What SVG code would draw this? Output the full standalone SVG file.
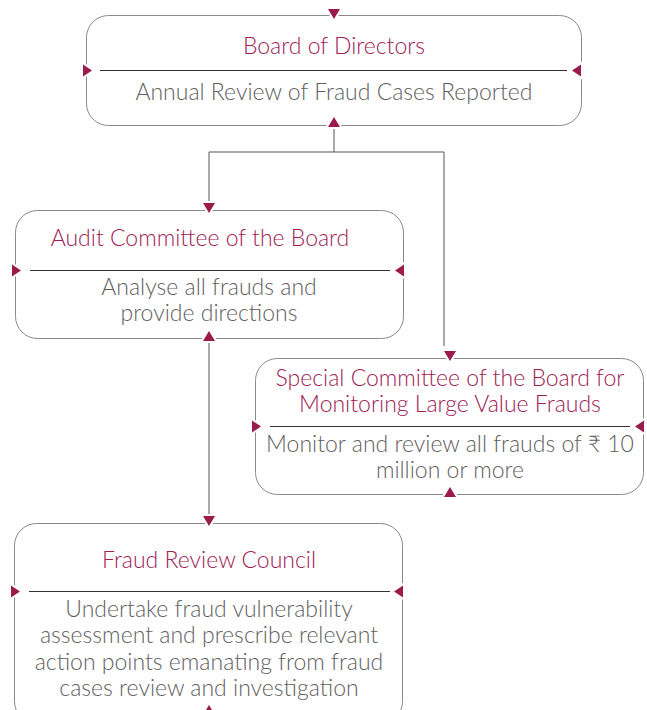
<svg xmlns="http://www.w3.org/2000/svg" width="647" height="710" viewBox="0 0 647 710">
<style>
.box{fill:none;stroke:#8a8a8a;stroke-width:1}
.div{stroke:#333;stroke-width:1}
.tri{fill:#9b1b4d;stroke:#fff;stroke-width:4;paint-order:stroke}
.title{font-family:Lato,"Open Sans",sans-serif;font-weight:300;font-size:23px;fill:#9e2155;text-anchor:middle}
.body{font-family:Lato,"Open Sans",sans-serif;font-weight:300;font-size:23px;fill:#616161;text-anchor:middle}
.conn{fill:none;stroke:#555;stroke-width:1}
</style>
<defs>
<path id="td" d="M-6,-5 L6,-5 L0,5 Z"/>
<path id="tu" d="M-6,5 L6,5 L0,-5 Z"/>
<path id="tr" d="M-4,-6 L-4,6 L5,0 Z"/>
<path id="tl" d="M4,-6 L4,6 L-5,0 Z"/>
</defs>
<g id="connectors">
<path class="conn" d="M334,128 V152 H209 V204"/>
<path class="conn" d="M334,152 H444 V346"/>
<path class="conn" d="M209,341 V517"/>
</g>
<g id="board">
<rect class="box" x="86.5" y="15.5" width="495" height="110" rx="22"/>
<line class="div" x1="100" y1="70.5" x2="567" y2="70.5"/>
<text class="title" x="334" y="54">Board of Directors</text>
<text class="body" x="334" y="100">Annual Review of Fraud Cases Reported</text>
<use href="#td" class="tri" x="334" y="14"/>
<use href="#tu" class="tri" x="334" y="122"/>
<use href="#tr" class="tri" x="87" y="70.5"/>
<use href="#tl" class="tri" x="577" y="70.5"/>
</g>
<g id="audit">
<rect class="box" x="15.5" y="210.5" width="388" height="128" rx="22"/>
<line class="div" x1="30" y1="270.5" x2="390" y2="270.5"/>
<text class="title" x="200" y="246">Audit Committee of the Board</text>
<text class="body"><tspan x="209" y="295">Analyse all frauds and</tspan><tspan x="209" y="321">provide directions</tspan></text>
<use href="#td" class="tri" x="209" y="208"/>
<use href="#tu" class="tri" x="209" y="336"/>
<use href="#tr" class="tri" x="16" y="270.5"/>
<use href="#tl" class="tri" x="400" y="270.5"/>
</g>
<g id="special">
<rect class="box" x="255.5" y="358.5" width="388" height="136" rx="22"/>
<line class="div" x1="270" y1="426.5" x2="630" y2="426.5"/>
<text class="title"><tspan x="450" y="386">Special Committee of the Board for</tspan><tspan x="450" y="412">Monitoring Large Value Frauds</tspan></text>
<text class="body"><tspan x="450" y="452">Monitor and review all frauds of ₹ 10</tspan><tspan x="450" y="478">million or more</tspan></text>
<use href="#td" class="tri" x="450" y="356"/>
<use href="#tu" class="tri" x="450" y="492"/>
<use href="#tr" class="tri" x="256" y="426.5"/>
<use href="#tl" class="tri" x="640" y="426.5"/>
</g>
<g id="frc">
<rect class="box" x="14.5" y="523.5" width="388" height="200" rx="22"/>
<line class="div" x1="29" y1="591.5" x2="390" y2="591.5"/>
<text class="title" x="209" y="568">Fraud Review Council</text>
<text class="body"><tspan x="209" y="617">Undertake fraud vulnerability</tspan><tspan x="209" y="643">assessment and prescribe relevant</tspan><tspan x="209" y="670">action points emanating from fraud</tspan><tspan x="209" y="696">cases review and investigation</tspan></text>
<use href="#td" class="tri" x="209" y="521"/>
<use href="#tu" class="tri" x="209" y="710"/>
<use href="#tr" class="tri" x="15" y="591.5"/>
<use href="#tl" class="tri" x="399" y="591.5"/>
</g>
</svg>
